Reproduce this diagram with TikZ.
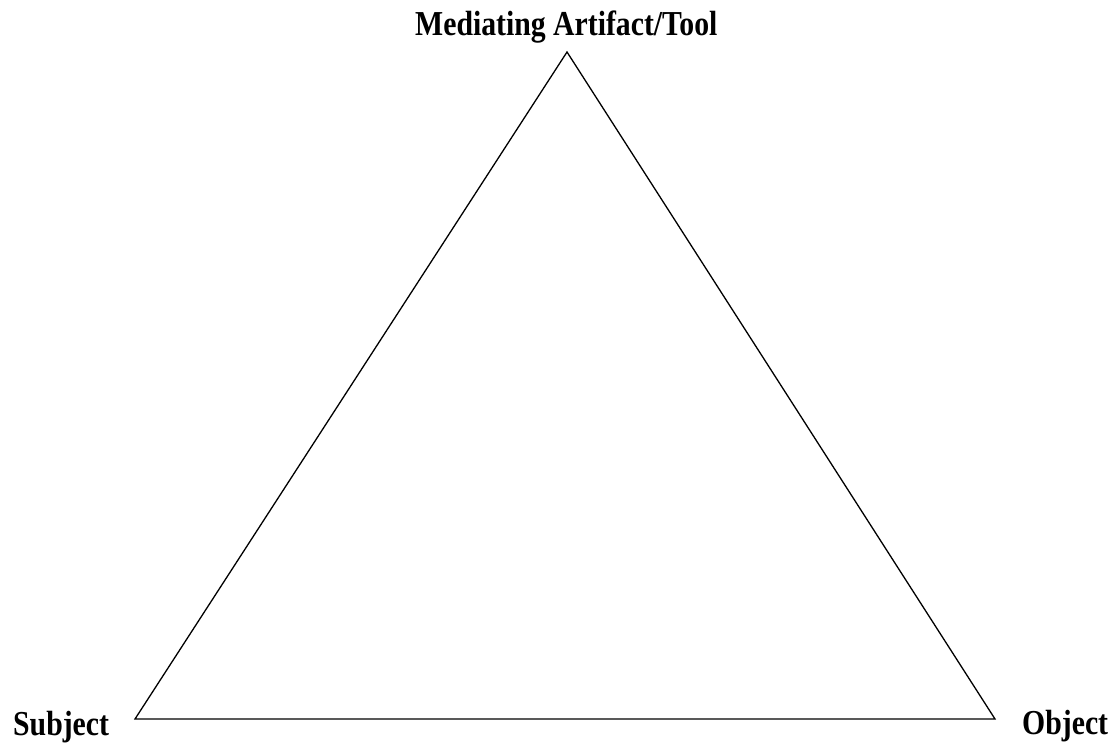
\documentclass[tikz,border=0pt]{standalone}
\usepackage{fontspec}
\newfontfamily\labfont[FakeStretch=0.85]{Liberation Serif}
\begin{document}
\begin{tikzpicture}[x=1pt,y=-1pt,
  lab/.style={font=\labfont\bfseries\fontsize{35}{40}\selectfont, inner sep=0pt, anchor=base west},
  edge/.style={draw=black, line width=1.3pt, line join=miter}]
\useasboundingbox (0,0) rectangle (1115,747);
\coordinate (T) at (567,52);
\coordinate (L) at (135,719);
\coordinate (R) at (995,719);
\draw[edge] (T) -- (L) -- (R) -- cycle;
\node[lab] (tool) at (415,35) {Mediating Artifact/Tool};
\node[lab] (subj) at (13,735) {Subject};
\node[lab] (obj) at (1022,734) {Object};
\end{tikzpicture}
\end{document}
